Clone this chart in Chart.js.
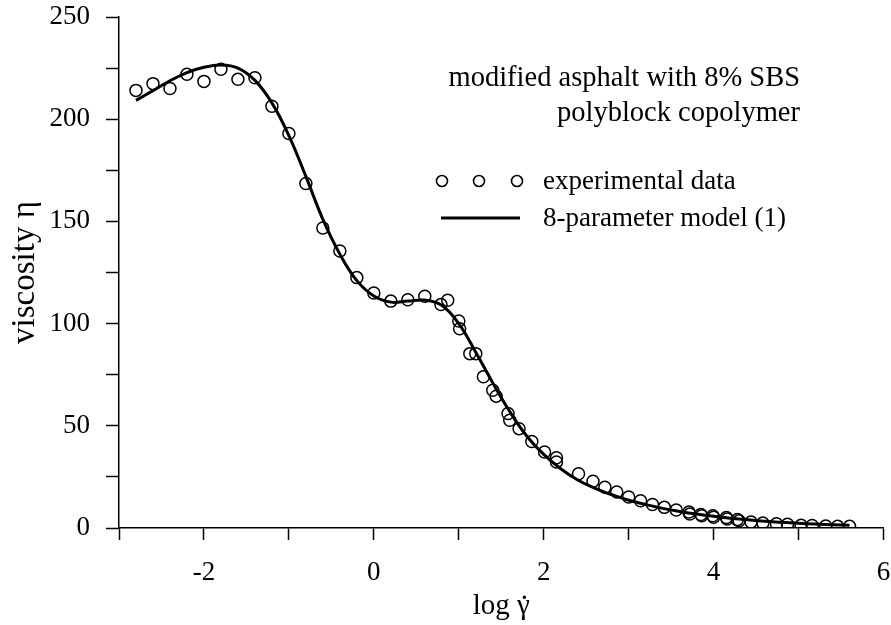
<!DOCTYPE html>
<html>
<head>
<meta charset="utf-8">
<script src="https://cdn.jsdelivr.net/npm/chart.js@4.4.0/dist/chart.umd.min.js"></script>
<style>
  html, body { margin: 0; padding: 0; background: #fff; }
  #wrap { width: 891px; height: 625px; position: relative; }
</style>
</head>
<body>
<div id="wrap"><canvas id="myChart" width="891" height="625"></canvas></div>
<script>
// experimental points (log shear rate, viscosity)
let expX = [-2.80, -2.60, -2.40, -2.20, -2.00, -1.80, -1.60, -1.40, -1.20, -1.00,
            -0.80, -0.60, -0.40, -0.20, 0.00, 0.20, 0.40, 0.60, 0.79, 0.87,
            1.00, 1.01, 1.13, 1.20, 1.29, 1.40, 1.44, 1.58, 1.60, 1.71,
            1.86, 2.01, 2.15, 2.15, 2.41, 2.58, 2.72, 2.86, 3.00, 3.14,
            3.28, 3.42, 3.56, 3.71, 3.72, 3.85, 3.86, 3.99, 4.00, 4.15,
            4.16, 4.28, 4.30, 4.44, 4.58, 4.74, 4.87, 5.03, 5.16, 5.32,
            5.46, 5.60];
let expY = [214.1, 217.4, 215.0, 222.0, 218.5, 224.4, 219.5, 220.3, 206.3, 193.0,
            168.5, 146.8, 135.5, 122.5, 115.0, 111.0, 111.7, 113.4, 109.3, 111.4,
            101.3, 97.5, 85.3, 85.3, 74.0, 67.4, 64.5, 56.0, 52.7, 48.6,
            42.3, 37.2, 34.4, 32.3, 26.5, 22.9, 19.9, 17.6, 15.2, 13.3,
            11.5, 10.1, 8.8, 7.8, 6.8, 6.6, 6.0, 6.0, 5.3, 5.1,
            4.4, 4.1, 3.5, 2.9, 2.4, 2.1, 1.8, 1.3, 1.2, 1.0,
            0.8, 0.8];

// 8-parameter model curve
let modelX = [-2.8, -2.6, -2.4, -2.2, -2.0, -1.8, -1.6, -1.4, -1.2, -1.0,
              -0.8, -0.6, -0.4, -0.2, 0.0, 0.2, 0.4, 0.6, 0.8, 1.0,
              1.2, 1.4, 1.6, 1.8, 2.0, 2.2, 2.4, 2.6, 2.8, 3.0,
              3.2, 3.4, 3.6, 3.8, 4.0, 4.2, 4.4, 4.6, 4.8, 5.0,
              5.2, 5.4, 5.6];
let modelY = [209.2, 214.0, 218.8, 222.8, 225.4, 226.5, 225.0, 219.0, 208.0, 192.0,
              172.0, 151.0, 134.0, 121.0, 113.5, 110.5, 111.0, 111.5, 109.0, 100.0,
              86.0, 71.0, 57.0, 45.0, 36.0, 29.0, 23.5, 19.5, 16.3, 13.6,
              11.5, 9.6, 8.1, 6.8, 5.7, 4.8, 4.0, 3.3, 2.8, 2.3,
              1.9, 1.6, 1.3];

let xTicks = [-2, 0, 2, 4, 6];
let yTicks = [0, 50, 100, 150, 200, 250];

let serif = '"Liberation Serif", "Times New Roman", serif';

let expPoints = expX.map((x, i) => ({ x: x, y: expY[i] }));
let modelPoints = modelX.map((x, i) => ({ x: x, y: modelY[i] }));

// text annotation, legend and x title drawn on top
const notes = {
  id: 'notes',
  afterDraw(chart) {
    let ctx = chart.ctx;
    let area = chart.chartArea;
    ctx.save();
    ctx.fillStyle = '#000';
    ctx.strokeStyle = '#000';
    ctx.font = '28.5px ' + serif;
    ctx.textBaseline = 'middle';
    ctx.textAlign = 'right';
    ctx.fillText('modified asphalt with 8% SBS', 800, 79);
    ctx.fillText('polyblock copolymer', 800, 114);

    ctx.font = '27px ' + serif;
    ctx.textAlign = 'left';
    ctx.fillText('experimental data', 543, 182);
    ctx.fillText('8-parameter model (1)', 543, 219);

    ctx.lineWidth = 1.6;
    [442, 479, 517].forEach(cx => {
      ctx.beginPath();
      ctx.arc(cx, 181, 5.5, 0, Math.PI * 2);
      ctx.stroke();
    });
    ctx.lineWidth = 3;
    ctx.beginPath();
    ctx.moveTo(441, 218);
    ctx.lineTo(520, 218);
    ctx.stroke();

    // x axis title: log γ with a dot above the gamma
    ctx.font = '29px ' + serif;
    ctx.textBaseline = 'alphabetic';
    let head = 'log ';
    let wHead = ctx.measureText(head).width;
    let wG = ctx.measureText('\u03B3').width;
    let x0 = (area.left + area.right) / 2 - (wHead + wG) / 2;
    let base = 614;
    ctx.textAlign = 'left';
    ctx.fillText(head, x0, base);
    ctx.fillText('\u03B3', x0 + wHead, base);
    ctx.textAlign = 'center';
    ctx.fillText('.', x0 + wHead + wG / 2 + 1, base - 15);
    ctx.restore();
  }
};

let ctx = document.getElementById('myChart').getContext('2d');
let myChart = new Chart(ctx, {
  type: 'scatter',
  data: {
    datasets: [{
      label: 'experimental data',
      data: expPoints,
      pointStyle: 'circle',
      pointRadius: 6,
      pointBorderWidth: 1.5,
      pointBorderColor: '#000',
      pointBackgroundColor: 'rgba(0,0,0,0)',
      showLine: false
    }, {
      label: '8-parameter model (1)',
      data: modelPoints,
      showLine: true,
      borderColor: '#000',
      borderWidth: 3,
      pointRadius: 0,
      tension: 0.4,
      fill: false
    }]
  },
  options: {
    responsive: false,
    animation: false,
    layout: { padding: { top: 17, right: 7, left: 0, bottom: 0 } },
    plugins: {
      legend: { display: false },
      tooltip: { enabled: false }
    },
    scales: {
      x: {
        type: 'linear',
        min: -3,
        max: 6,
        afterBuildTicks: (scale) => {
          scale.ticks = [];
          for (let v = -3; v <= 6; v++) scale.ticks.push({ value: v });
        },
        ticks: {
          color: '#000',
          font: { family: serif, size: 27 },
          padding: 17,
          maxRotation: 0,
          autoSkip: false,
          callback: (v) => xTicks.includes(v) ? String(v) : ''
        },
        grid: {
          drawOnChartArea: false,
          drawTicks: true,
          tickLength: 12,
          tickWidth: 1.5,
          tickColor: '#000'
        },
        border: { display: true, color: '#000', width: 1.5 },
        title: { display: false },
        afterFit: (scale) => {
          scale.height = 97;
          scale.paddingLeft = 0;
          scale.paddingRight = 0;
        }
      },
      y: {
        type: 'linear',
        min: 0,
        max: 250,
        afterBuildTicks: (scale) => {
          scale.ticks = [];
          for (let v = 0; v <= 250; v += 25) scale.ticks.push({ value: v });
        },
        ticks: {
          color: '#000',
          font: { family: serif, size: 27 },
          padding: 16,
          autoSkip: false,
          callback: (v) => yTicks.includes(v) ? String(v) : ''
        },
        grid: {
          drawOnChartArea: false,
          drawTicks: true,
          tickLength: 13,
          tickWidth: 1.5,
          tickColor: '#000'
        },
        border: { display: true, color: '#000', width: 1.5 },
        title: {
          display: true,
          text: 'viscosity \u03B7',
          color: '#000',
          font: { family: serif, size: 33 },
          padding: { top: 6, bottom: 0 }
        },
        afterFit: (scale) => {
          scale.width = 119;
          scale.paddingTop = 0;
          scale.paddingBottom = 0;
        }
      }
    }
  },
  plugins: [notes]
});
</script>
</body>
</html>
